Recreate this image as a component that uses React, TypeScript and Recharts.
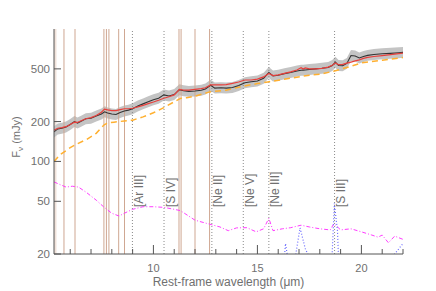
import React from 'react';
import {
  ComposedChart,
  Line,
  Area,
  XAxis,
  YAxis,
  ReferenceLine,
  ReferenceArea,
} from 'recharts';

// observed spectrum + model fit share one wavelength grid (micron)
const specWl = [
  5.22, 5.4, 5.6, 5.8, 6.0, 6.2, 6.35, 6.5, 6.75, 7.0, 7.25, 7.5, 7.65, 7.8, 8.0, 8.2, 8.4, 8.6, 8.8, 9.0,
  9.25, 9.5, 9.75, 10.0, 10.25, 10.5, 10.75, 11.0, 11.25, 11.45, 11.7, 12.0, 12.3, 12.5, 12.75, 12.95,
  13.25, 13.5, 13.8, 14.1, 14.4, 14.7, 15.0, 15.3, 15.55, 15.75, 16.0, 16.3, 16.6, 16.9, 17.1, 17.2, 17.3,
  17.5, 17.8, 18.1, 18.4, 18.6, 18.75, 18.9, 19.1, 19.3, 19.5, 19.7, 19.9, 20.1, 20.3, 20.6, 21.0, 21.4,
  21.8, 22.0,
];
const observed = [
  167, 176, 178, 182, 190, 200, 195, 200, 210, 212, 220, 228, 237, 232, 228, 226, 234, 240, 244, 250,
  262, 272, 282, 292, 300, 318, 312, 320, 348, 342, 338, 340, 345, 352, 376, 358,
  360, 358, 362, 375, 393, 400, 405, 425, 470, 442, 448, 460, 470, 482, 488, 489, 490,
  495, 500, 505, 512, 530, 562, 530, 528, 550, 630, 625, 605, 620, 632, 642, 650, 655,
  662, 666,
];
const model = [
  172, 178, 180, 183, 190, 198, 197, 202, 210, 214, 222, 235, 248, 245, 242, 242, 246, 250, 250, 252,
  258, 265, 273, 281, 290, 300, 308, 318, 350, 345, 345, 350, 355, 360, 378, 378,
  378, 380, 388, 398, 412, 412, 418, 435, 462, 445, 450, 462, 475, 490, 510, 498, 508,
  500, 500, 505, 515, 532, 555, 538, 540, 552, 562, 575, 585, 600, 610, 620, 630, 640,
  652, 658,
];
// width of the grey uncertainty band (multiplicative)
const bandFactor = 1.1;

// continuum (orange dashed)
const contWl = [5.22, 5.5, 6.0, 6.3, 6.8, 7.25, 7.5, 7.65, 7.8, 8.1, 8.6, 9.0, 9.5, 10.0, 10.5, 11.0, 11.3, 11.6, 12.0, 12.7, 13.5, 14.3, 15.0, 15.5, 16.5, 17.5, 18.0, 18.7, 19.5, 20.0, 21.0, 22.0];
const continuum = [100, 112, 127, 135, 147, 163, 180, 190, 195, 198, 202, 205, 217, 233, 255, 282, 299, 303, 311, 335, 345, 370, 387, 398, 423, 448, 455, 482, 523, 555, 581, 608];

// magenta dash-dot component
const magWl = [5.22, 5.5, 5.8, 6.1, 6.4, 6.8, 7.25, 7.6, 8.0, 8.35, 8.6, 9.0, 9.5, 10.0, 10.5, 11.0, 11.3, 12.0, 12.7, 13.2, 13.6, 14.0, 14.5, 14.94, 15.3, 15.55, 15.75, 16.2, 16.6, 17.1, 17.5, 18.0, 18.5, 18.68, 19.0, 19.5, 20.0, 20.5, 20.8, 21.0, 21.3, 21.6, 22.0];
const magenta = [70, 67, 64, 65, 64, 58, 51, 45.5, 40.6, 38.7, 40.6, 43.5, 45.5, 45.5, 45, 43.5, 42.5, 36, 33.6, 32, 30, 31.5, 31.6, 29.4, 31, 37.2, 30, 31, 31.6, 33, 32, 31, 30.4, 34, 30.4, 31, 29.4, 27.8, 26.8, 27.8, 24.3, 27.3, 25.8];

// emission lines (blue dotted), mostly below the axis floor
const lineWl = [5.22, 15.3, 15.55, 15.8, 16.2, 16.35, 16.5, 16.6, 16.8, 17.05, 17.3, 17.7, 18.4, 18.55, 18.7, 18.85, 18.95, 19.5, 21.3, 21.6, 22.0];
const emission = [8, 8, 19, 8, 12, 24, 17, 12, 18, 31.5, 22, 16, 10, 14, 48, 30, 12, 8, 12, 20, 24];

// PAH features (solid tan lines) and fine-structure lines (dotted, labelled)
const pahWl = [5.7, 6.23, 7.62, 7.74, 7.86, 8.33, 8.61, 11.23, 11.33, 12.0, 12.7];
const ionWl = [8.99, 10.51, 12.81, 14.32, 15.55, 18.71];
const ionNames = ['[Ar III]', '[S IV]', '[Ne II]', '[Ne V]', '[Ne III]', '[S III]'];

const xTicks = [6, 7, 8, 9, 10, 11, 12, 13, 14, 15, 16, 17, 18, 19, 20, 21, 22];
const majorX = [10, 15, 20];
const yTicks = [20, 50, 100, 200, 500];
const yDomain = [20, 1000];

const specData = specWl.map((wl, i) => ({
  wl,
  obs: observed[i],
  model: model[i],
  band: [observed[i] / bandFactor, observed[i] * bandFactor],
}));
const contData = contWl.map((wl, i) => ({ wl, cont: continuum[i] }));
const magData = magWl.map((wl, i) => ({ wl, mag: magenta[i] }));
const lineData = lineWl.map((wl, i) => ({ wl, em: emission[i] }));
// each PAH marker is a vertical segment spanning the y range
const pahData = pahWl.map((wl) => yDomain.map((v) => ({ wl, v })));

const FONT = 'Liberation Sans, Arial, sans-serif';
const TXT = '#707070';

const BottomTick = (props: any) => {
  const { x, y, payload } = props;
  const major = majorX.includes(payload.value);
  return (
    <g>
      <line x1={x} x2={x} y1={y} y2={y - (major ? 9 : 5)} stroke="#555" />
      {major && (
        <text x={x} y={y + 18} textAnchor="middle" fill={TXT} fontSize={11} fontFamily={FONT}>
          {payload.value}
        </text>
      )}
    </g>
  );
};

const TopTick = (props: any) => {
  const { x, y, payload } = props;
  const major = majorX.includes(payload.value);
  return <line x1={x} x2={x} y1={y} y2={y + (major ? 9 : 5)} stroke="#555" />;
};

const LeftTick = (props: any) => {
  const { x, y, payload } = props;
  return (
    <g>
      <line x1={x} x2={x + 7} y1={y} y2={y} stroke="#555" />
      <text x={x - 4} y={y + 4} textAnchor="end" fill={TXT} fontSize={11.5} fontFamily={FONT}>
        {payload.value}
      </text>
    </g>
  );
};

const RightTick = (props: any) => {
  const { x, y } = props;
  return <line x1={x} x2={x - 7} y1={y} y2={y} stroke="#555" />;
};

const ionLabel = (name: string) => (props: any) => {
  const vb = props.viewBox;
  if (!vb) return null;
  const bx = vb.x + 10.5;
  const by = 207;
  return (
    <text
      x={bx}
      y={by}
      transform={`rotate(-90, ${bx}, ${by})`}
      fill={TXT}
      fontSize={12}
      fontFamily={FONT}
    >
      {name}
    </text>
  );
};

export default function App() {
  return (
    <div style={{ position: 'absolute', left: 0, top: 0, background: '#fff' }}>
      <ComposedChart width={436} height={291} margin={{ top: 29, right: 33, bottom: 0, left: 0 }}>
        <XAxis
          dataKey="wl"
          type="number"
          domain={[5.22, 22]}
          allowDataOverflow
          ticks={xTicks}
          interval={0}
          tickSize={0}
          tickMargin={0}
          tickLine={false}
          tick={BottomTick}
          height={37}
          stroke="#555"
          label={(p: any) => (
            <text
              x={p.viewBox.x + p.viewBox.width / 2}
              y={p.viewBox.y + 32}
              textAnchor="middle"
              fill={TXT}
              fontSize={12}
              fontFamily={FONT}
            >
              Rest-frame wavelength (μm)
            </text>
          )}
        />
        <XAxis
          xAxisId="top"
          dataKey="wl"
          type="number"
          orientation="top"
          domain={[5.22, 22]}
          allowDataOverflow
          ticks={xTicks}
          interval={0}
          tickSize={0}
          tickMargin={0}
          tickLine={false}
          tick={TopTick}
          height={0}
          stroke="#999"
          strokeWidth={1.5}
          label={(p: any) => (
            <text
              x={p.viewBox.x + p.viewBox.width / 2}
              y={23}
              textAnchor="middle"
              fill={TXT}
              fontSize={14}
              fontFamily={FONT}
            >
              NGC 4593
            </text>
          )}
        />
        <YAxis
          scale="log"
          type="number"
          domain={yDomain}
          allowDataOverflow
          ticks={yTicks}
          interval={0}
          tickSize={0}
          tickMargin={0}
          tickLine={false}
          tick={LeftTick}
          width={54}
          stroke="#555"
          label={() => (
            <text
              x={20}
              y={137}
              transform="rotate(-90, 20, 137)"
              textAnchor="middle"
              fill={TXT}
              fontSize={11}
              fontFamily={FONT}
            >
              F<tspan fontSize={8} dy={3}>ν</tspan>
              <tspan dy={-3}> (mJy)</tspan>
            </text>
          )}
        />
        <YAxis
          yAxisId="r"
          orientation="right"
          scale="log"
          type="number"
          domain={yDomain}
          allowDataOverflow
          ticks={yTicks}
          interval={0}
          tickSize={0}
          tickMargin={0}
          tickLine={false}
          tick={RightTick}
          width={0}
          stroke="#666"
        />

        <ReferenceArea x1={5.22} x2={5.34} fill="#f0e2da" fillOpacity={1} stroke="none" />

        <Area
          data={specData}
          dataKey="band"
          stroke="none"
          fill="#c4c4c4"
          fillOpacity={1}
          isAnimationActive={false}
        />

        {pahData.map((d, i) => (
          <Line
            key={'p' + i}
            data={d}
            dataKey="v"
            stroke="#cfa792"
            strokeWidth={1}
            dot={false}
            isAnimationActive={false}
          />
        ))}
        {ionWl.map((w, i) => (
          <ReferenceLine
            key={'i' + w}
            x={w}
            stroke="#8a8a8a"
            strokeDasharray="1 2"
            label={ionLabel(ionNames[i])}
          />
        ))}

        <Line data={magData} dataKey="mag" stroke="#ff3cff" strokeWidth={1} strokeDasharray="4 2 1 2" dot={false} isAnimationActive={false} />
        <Line data={lineData} dataKey="em" stroke="#6b6bff" strokeWidth={1.2} strokeDasharray="1 2" dot={false} isAnimationActive={false} />
        <Line data={contData} dataKey="cont" stroke="#ffb030" strokeWidth={1.5} strokeDasharray="6 4" dot={false} isAnimationActive={false} />
        <Line data={specData} dataKey="obs" stroke="#333" strokeWidth={1.1} dot={false} isAnimationActive={false} />
        <Line data={specData} dataKey="model" stroke="#e8403c" strokeWidth={1.2} dot={false} isAnimationActive={false} />
      </ComposedChart>
    </div>
  );
}
